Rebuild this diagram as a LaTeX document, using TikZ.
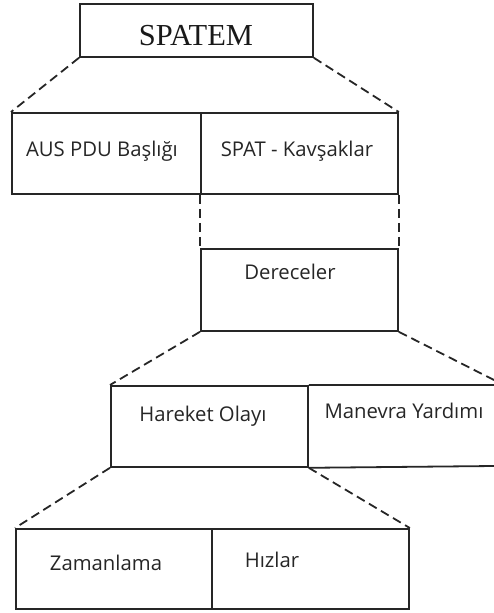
\documentclass[tikz,border=0pt]{standalone}
\usepackage{fontspec}
\setmainfont{Open Sans}
\newfontfamily\titlefont{Liberation Serif}
\begin{document}
\begin{tikzpicture}[x=1pt,y=-1pt,
  box/.style={draw=black!85, line width=1.8pt, minimum width=#1, minimum height=81pt,
              inner sep=0pt, anchor=north west},
  lbl/.style={anchor=base, inner sep=0pt, text=black!85, font=\fontsize{20.3}{23}\selectfont},
  link/.style={draw=black!85, line width=1.8pt, dash pattern=on 9pt off 5pt}]
\useasboundingbox (0,0) rectangle (493,613);

% top box
\node[draw=black!85, line width=1.8pt, minimum width=233pt, minimum height=53pt,
      inner sep=0pt, anchor=north west] (spatem) at (79,3) {};
\node[anchor=base, inner sep=0pt, text=black!90, font=\titlefont\fontsize{30.5}{33}\selectfont]
  (spatemtxt) at (196,45) {SPATEM};

% first row
\node[box=189pt] (aus) at (11,112) {};
\node[box=197pt] (spat) at (200,112) {};
\node[lbl] (austxt) at (102,156.7) {AUS PDU Başlığı};
\node[lbl] (spattxt) at (297,156.7) {SPAT - Kavşaklar};

% Dereceler
\node[box=197pt, minimum height=82pt] (der) at (200,248) {};
\node[lbl] (dertxt) at (290,279) {Dereceler};

% second row
\node[box=197pt] (har) at (110,385) {};
\node[lbl] (hartxt) at (203,421.7) {Hareket Olayı};
\coordinate (manNE) at (494,385);
\coordinate (manSE) at (494,466);
\draw[draw=black!85, line width=1.8pt] (har.north east) -- (manNE)
  (har.south east) -- (manSE);
\node[lbl] (mantxt) at (404,418) {Manevra Yardımı};

% third row
\node[box=196pt, minimum height=80pt] (zam) at (15,528) {};
\node[box=197pt, minimum height=80pt] (hiz) at (211,528) {};
\node[lbl] (zamtxt) at (106,570) {Zamanlama};
\node[lbl] (hiztxt) at (272,567) {Hızlar};

% expansion lines
\draw[link] (spatem.south west) -- (aus.north west);
\draw[link] (spatem.south east) -- (spat.north east);
\draw[link] (spat.south west) -- (der.north west);
\draw[link] (spat.south east) -- (der.north east);
\draw[link] (der.south west) -- (har.north west);
\coordinate (derR) at (494,380);
\draw[link] (der.south east) -- (derR);
\draw[link] (har.south west) -- (zam.north west);
\draw[link] (har.south east) -- (hiz.north east);
\end{tikzpicture}
\end{document}
